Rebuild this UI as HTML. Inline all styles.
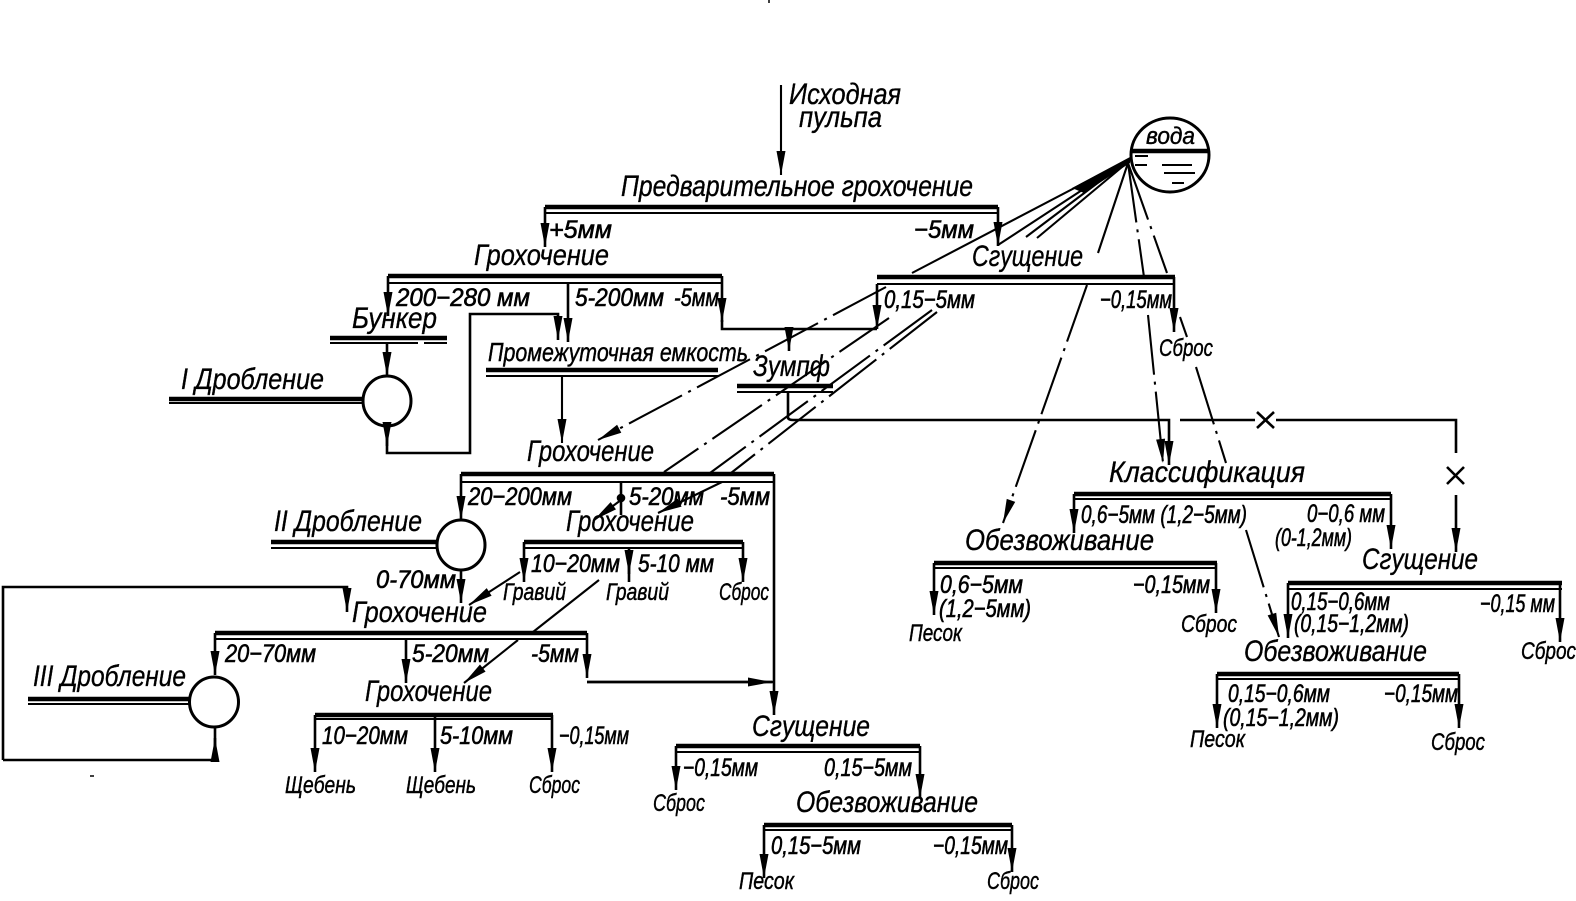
<!DOCTYPE html>
<html lang="ru"><head><meta charset="utf-8"><title>Схема</title>
<style>
html,body{margin:0;padding:0;background:#fff;width:1576px;height:901px;overflow:hidden}
svg{display:block}
text{font-family:"Liberation Sans","DejaVu Sans",sans-serif;font-style:italic;fill:#000;stroke:#000;stroke-width:.35}
.b{font-size:30px}
.m{font-size:25px;stroke-width:.6}
.s{font-size:24px;stroke-width:.45}
.l{fill:none;stroke:#000;stroke-width:2.6}
.h{fill:none;stroke:#000;stroke-width:4.6}
.t{fill:none;stroke:#000;stroke-width:2.1}
.d{fill:none;stroke:#000;stroke-width:2.1;stroke-dasharray:60 7 3 7}
</style></head><body>
<svg width="1576" height="901" viewBox="0 0 1576 901" xmlns="http://www.w3.org/2000/svg">
<defs>
<marker id="a" markerUnits="userSpaceOnUse" markerWidth="24" markerHeight="9" refX="24" refY="4.5" orient="auto" overflow="visible"><path d="M0 0 L24 4.5 L0 9 Z" fill="#000"/></marker>
</defs>
<rect width="1576" height="901" fill="#fff"/>

<g class="h">
<path class="h" d="M545 207H998M388 276H722M877 277H1175M330 338H447M486 370H718M737 386H833M461 474H774M524 542H743M215 633H587M315 715H553M676 746H920M764 825H1012M1074 494H1391M934 563H1217M1288 583H1562M1217 674H1459M169 399H362M271 542H437M28 699H189M1131 151H1210"/>
</g>
<g class="t">
<path class="t" d="M545 213H998M388 283H722M877 284H1175M330 343H418M424 343H447M486 376H718M737 392H833M461 482H774M524 548H743M215 639H587M315 719H553M676 752H920M764 830H1012M1074 499H1391M934 568H1217M1288 589H1562M1217 679H1459M169 403H362M271 548H437M28 704H189"/>
</g>

<g fill="#fff" stroke="#000" stroke-width="3">
<ellipse cx="1170" cy="155" rx="39" ry="37" fill="none"/>
<ellipse cx="387" cy="401" rx="24" ry="25"/>
<ellipse cx="461" cy="545" rx="24" ry="25"/>
<ellipse cx="214" cy="702" rx="24.5" ry="25"/>
</g>
<path class="t" d="M1135 156H1148M1162 165H1192M1135 165H1147M1164 173H1195M1172 183H1184"/>

<g class="l">
<path class="t" d="M781 85V175" marker-end="url(#a)"/>
<path d="M545 207V247" marker-end="url(#a)"/>
<path d="M998 207V246" marker-end="url(#a)"/>
<path d="M388 276V316" marker-end="url(#a)"/>
<path d="M387 343V376" marker-end="url(#a)"/>
<path d="M387 426V446" marker-end="url(#a)"/>
<path d="M387 426V453H470V314H558V340" marker-end="url(#a)"/>
<path d="M568 283V342" marker-end="url(#a)"/>
<path d="M722 276V322" marker-end="url(#a)"/>
<path d="M722 320V329H877"/>
<path d="M877 284V329" marker-end="url(#a)"/>
<path d="M789 329V351" marker-end="url(#a)"/>
<path class="t" d="M562 376V443" marker-end="url(#a)"/>
<path d="M788 392V418Q789 420 793 420H1169V465" marker-end="url(#a)"/>
<path d="M1180 420H1255M1276 420H1456V453"/>
<path d="M1257 412L1274 428M1274 412L1257 428M1447 467L1464 484M1464 467L1447 484"/>
<path d="M1456 495V552" marker-end="url(#a)"/>
<path d="M461 474V520" marker-end="url(#a)"/>
<path d="M461 570V603" marker-end="url(#a)"/>
<path d="M621 482V515"/><circle cx="621" cy="498" r="3" fill="#000"/>
<path class="t" d="M621 500L594 520" marker-end="url(#a)"/>
<path d="M774 474V715" marker-end="url(#a)"/>
<path d="M524 542V582" marker-end="url(#a)"/>
<path d="M629 548V582"/><path d="M629 555V574" marker-end="url(#a)"/>
<path d="M743 542V582" marker-end="url(#a)"/>
<path class="t" d="M520 572L469 605" marker-end="url(#a)"/>
<path class="t" d="M599 580L533 632"/>
<path class="t" d="M518 640L464 683" marker-end="url(#a)"/>
<path d="M3 760V587H347V612" marker-end="url(#a)"/>
<path d="M3 760H215V727"/>
<path d="M215 762V738" marker-end="url(#a)"/>
<path d="M215 633V675" marker-end="url(#a)"/>
<path d="M406 639V683" marker-end="url(#a)"/>
<path d="M587 633V678" marker-end="url(#a)"/>
<path d="M587 682H774"/>
<path d="M587 682H772" marker-end="url(#a)"/>
<path d="M315 715V772" marker-end="url(#a)"/>
<path d="M435 715V772" marker-end="url(#a)"/>
<path d="M552 715V772" marker-end="url(#a)"/>
<path d="M676 746V790" marker-end="url(#a)"/>
<path d="M920 746V798" marker-end="url(#a)"/>
<path d="M764 825V878" marker-end="url(#a)"/>
<path d="M1012 825V872" marker-end="url(#a)"/>
<path d="M1174 277V332" marker-end="url(#a)"/>
<path d="M1074 494V533" marker-end="url(#a)"/>
<path d="M1391 494V549" marker-end="url(#a)"/>
<path d="M934 563V615" marker-end="url(#a)"/>
<path d="M1216 563V613" marker-end="url(#a)"/>
<path d="M1288 583V638" marker-end="url(#a)"/>
<path d="M1560 583V642" marker-end="url(#a)"/>
<path d="M1217 674V728" marker-end="url(#a)"/>
<path d="M1459 674V728" marker-end="url(#a)"/>
</g>

<g>
<path d="M1130 157L1072 188L1084 193L1130 163Z" fill="#000"/>
<path class="t" d="M1128 160L912 273"/>
<path class="d" d="M886 287L598 440" marker-end="url(#a)"/>
<path class="t" d="M1128 160L998 245"/>
<path class="d" d="M889 318L664 472"/>
<path class="t" d="M1128 160L1026 237"/>
<path class="d" d="M932 310L710 473"/>
<path class="t" d="M1128 162L1037 238"/>
<path class="d" d="M937 312L731 473"/>
<path class="t" d="M722 482L658 513" marker-end="url(#a)"/>
<path class="t" d="M1128 163L1098 253"/>
<path class="d" d="M1087 285L1003 523" marker-end="url(#a)"/>
<path class="d" d="M1128 163L1144 277"/>
<path class="d" d="M1148 315L1163 463" marker-end="url(#a)"/>
<path class="d" d="M1128 163L1167 273"/>
<path class="t" d="M1180 317L1187 337"/>
<path class="d" d="M1196 367L1226 463"/>
<path class="d" d="M1246 530L1279 637" marker-end="url(#a)"/>
</g>

<text class="b" x="789" y="104" textLength="112" lengthAdjust="spacingAndGlyphs">Исходная</text>
<text class="b" x="799" y="127" textLength="83" lengthAdjust="spacingAndGlyphs">пульпа</text>
<text class="s" x="1146" y="144" textLength="49" lengthAdjust="spacingAndGlyphs">вода</text>
<text class="b" x="621" y="196" textLength="352" lengthAdjust="spacingAndGlyphs">Предварительное грохочение</text>
<text class="m" x="549" y="238" textLength="63" lengthAdjust="spacingAndGlyphs">+5мм</text>
<text class="m" x="914" y="238" textLength="60" lengthAdjust="spacingAndGlyphs">−5мм</text>
<text class="b" x="474" y="265" textLength="135" lengthAdjust="spacingAndGlyphs">Грохочение</text>
<text class="b" x="972" y="266" textLength="111" lengthAdjust="spacingAndGlyphs">Сгущение</text>
<text class="m" x="396" y="306" textLength="134" lengthAdjust="spacingAndGlyphs">200−280 мм</text>
<text class="m" x="575" y="306" textLength="89" lengthAdjust="spacingAndGlyphs">5-200мм</text>
<text class="m" x="674" y="306" textLength="45" lengthAdjust="spacingAndGlyphs">-5мм</text>
<text class="m" x="884" y="308" textLength="91" lengthAdjust="spacingAndGlyphs">0,15−5мм</text>
<text class="m" x="1100" y="308" textLength="72" lengthAdjust="spacingAndGlyphs">−0,15мм</text>
<text class="b" x="352" y="328" textLength="85" lengthAdjust="spacingAndGlyphs">Бункер</text>
<text class="s" x="1159" y="356" textLength="54" lengthAdjust="spacingAndGlyphs">Сброс</text>
<text class="s" x="488" y="361" textLength="260" lengthAdjust="spacingAndGlyphs" style="font-size:26px">Промежуточная емкость</text>
<text class="b" x="753" y="376" textLength="77" lengthAdjust="spacingAndGlyphs">Зумпф</text>
<text class="b" x="181" y="389" textLength="143" lengthAdjust="spacingAndGlyphs">I Дробление</text>
<text class="b" x="527" y="461" textLength="127" lengthAdjust="spacingAndGlyphs">Грохочение</text>
<text class="b" x="1109" y="482" textLength="196" lengthAdjust="spacingAndGlyphs">Классификация</text>
<text class="m" x="468" y="505" textLength="104" lengthAdjust="spacingAndGlyphs">20−200мм</text>
<text class="m" x="629" y="505" textLength="75" lengthAdjust="spacingAndGlyphs">5-20мм</text>
<text class="m" x="720" y="505" textLength="50" lengthAdjust="spacingAndGlyphs">-5мм</text>
<text class="m" x="1081" y="523" textLength="166" lengthAdjust="spacingAndGlyphs">0,6−5мм (1,2−5мм)</text>
<text class="m" x="1307" y="522" textLength="78" lengthAdjust="spacingAndGlyphs">0−0,6 мм</text>
<text class="m" x="1275" y="546" textLength="77" lengthAdjust="spacingAndGlyphs">(0-1,2мм)</text>
<text class="b" x="274" y="531" textLength="148" lengthAdjust="spacingAndGlyphs">II Дробление</text>
<text class="b" x="566" y="531" textLength="128" lengthAdjust="spacingAndGlyphs">Грохочение</text>
<text class="b" x="965" y="550" textLength="189" lengthAdjust="spacingAndGlyphs">Обезвоживание</text>
<text class="b" x="1362" y="569" textLength="116" lengthAdjust="spacingAndGlyphs">Сгущение</text>
<text class="m" x="531" y="572" textLength="89" lengthAdjust="spacingAndGlyphs">10−20мм</text>
<text class="m" x="638" y="572" textLength="76" lengthAdjust="spacingAndGlyphs">5-10 мм</text>
<text class="m" x="376" y="588" textLength="80" lengthAdjust="spacingAndGlyphs">0-70мм</text>
<text class="s" x="503" y="600" textLength="63" lengthAdjust="spacingAndGlyphs">Гравий</text>
<text class="s" x="606" y="600" textLength="63" lengthAdjust="spacingAndGlyphs">Гравий</text>
<text class="s" x="719" y="600" textLength="50" lengthAdjust="spacingAndGlyphs">Сброс</text>
<text class="m" x="940" y="593" textLength="83" lengthAdjust="spacingAndGlyphs">0,6−5мм</text>
<text class="m" x="1133" y="593" textLength="77" lengthAdjust="spacingAndGlyphs">−0,15мм</text>
<text class="m" x="939" y="617" textLength="92" lengthAdjust="spacingAndGlyphs">(1,2−5мм)</text>
<text class="m" x="1291" y="610" textLength="99" lengthAdjust="spacingAndGlyphs">0,15−0,6мм</text>
<text class="m" x="1480" y="612" textLength="75" lengthAdjust="spacingAndGlyphs">−0,15 мм</text>
<text class="m" x="1294" y="632" textLength="115" lengthAdjust="spacingAndGlyphs">(0,15−1,2мм)</text>
<text class="b" x="352" y="622" textLength="135" lengthAdjust="spacingAndGlyphs">Грохочение</text>
<text class="s" x="1181" y="632" textLength="56" lengthAdjust="spacingAndGlyphs">Сброс</text>
<text class="s" x="909" y="641" textLength="53" lengthAdjust="spacingAndGlyphs">Песок</text>
<text class="s" x="1521" y="659" textLength="55" lengthAdjust="spacingAndGlyphs">Сброс</text>
<text class="b" x="1244" y="661" textLength="183" lengthAdjust="spacingAndGlyphs">Обезвоживание</text>
<text class="m" x="225" y="662" textLength="91" lengthAdjust="spacingAndGlyphs">20−70мм</text>
<text class="m" x="412" y="662" textLength="77" lengthAdjust="spacingAndGlyphs">5-20мм</text>
<text class="m" x="531" y="662" textLength="48" lengthAdjust="spacingAndGlyphs">-5мм</text>
<text class="b" x="33" y="686" textLength="153" lengthAdjust="spacingAndGlyphs">III Дробление</text>
<text class="b" x="365" y="701" textLength="127" lengthAdjust="spacingAndGlyphs">Грохочение</text>
<text class="m" x="1228" y="702" textLength="102" lengthAdjust="spacingAndGlyphs">0,15−0,6мм</text>
<text class="m" x="1384" y="702" textLength="74" lengthAdjust="spacingAndGlyphs">−0,15мм</text>
<text class="m" x="1223" y="726" textLength="116" lengthAdjust="spacingAndGlyphs">(0,15−1,2мм)</text>
<text class="b" x="752" y="736" textLength="118" lengthAdjust="spacingAndGlyphs">Сгущение</text>
<text class="m" x="322" y="744" textLength="86" lengthAdjust="spacingAndGlyphs">10−20мм</text>
<text class="m" x="440" y="744" textLength="73" lengthAdjust="spacingAndGlyphs">5-10мм</text>
<text class="m" x="559" y="744" textLength="70" lengthAdjust="spacingAndGlyphs">−0,15мм</text>
<text class="s" x="1190" y="747" textLength="55" lengthAdjust="spacingAndGlyphs">Песок</text>
<text class="s" x="1431" y="750" textLength="54" lengthAdjust="spacingAndGlyphs">Сброс</text>
<text class="m" x="683" y="776" textLength="75" lengthAdjust="spacingAndGlyphs">−0,15мм</text>
<text class="m" x="824" y="776" textLength="88" lengthAdjust="spacingAndGlyphs">0,15−5мм</text>
<text class="s" x="285" y="793" textLength="71" lengthAdjust="spacingAndGlyphs">Щебень</text>
<text class="s" x="406" y="793" textLength="70" lengthAdjust="spacingAndGlyphs">Щебень</text>
<text class="s" x="529" y="793" textLength="51" lengthAdjust="spacingAndGlyphs">Сброс</text>
<text class="s" x="653" y="811" textLength="52" lengthAdjust="spacingAndGlyphs">Сброс</text>
<text class="b" x="796" y="812" textLength="182" lengthAdjust="spacingAndGlyphs">Обезвоживание</text>
<text class="m" x="771" y="854" textLength="90" lengthAdjust="spacingAndGlyphs">0,15−5мм</text>
<text class="m" x="933" y="854" textLength="75" lengthAdjust="spacingAndGlyphs">−0,15мм</text>
<text class="s" x="739" y="889" textLength="55" lengthAdjust="spacingAndGlyphs">Песок</text>
<text class="s" x="987" y="889" textLength="52" lengthAdjust="spacingAndGlyphs">Сброс</text>
<path d="M769 0V3M90 776H94" stroke="#000" stroke-width="1.5" fill="none"/>
</svg>
</body></html>
